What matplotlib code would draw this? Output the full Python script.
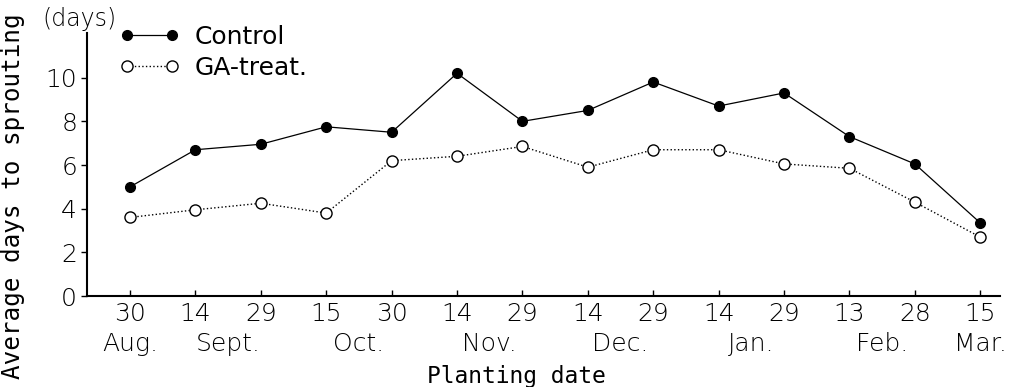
import matplotlib
matplotlib.use("Agg")
import matplotlib.pyplot as plt

# planting dates (day of month) and month labels
day_labels = ["30", "14", "29", "15", "30", "14", "29", "14", "29", "14", "29", "13", "28", "15"]
month_labels = ["Aug.", "Sept.", "Oct.", "Nov.", "Dec.", "Jan.", "Feb.", "Mar."]
month_pos = [0, 1.5, 3.5, 5.5, 7.5, 9.5, 11.5, 13]

control = [5.0, 6.7, 6.95, 7.75, 7.5, 10.2, 8.0, 8.5, 9.8, 8.7, 9.3, 7.3, 6.05, 3.35]
ga_treat = [3.6, 3.95, 4.25, 3.8, 6.2, 6.4, 6.85, 5.9, 6.7, 6.7, 6.05, 5.85, 4.3, 2.7]

x = list(range(len(day_labels)))

fig = plt.figure(figsize=(10.34, 3.87), dpi=100)
ax = fig.add_axes([0.084, 0.235, 0.883, 0.68])

ax.plot(x, control, color="black", linewidth=0.9, marker="o", markersize=7,
        markerfacecolor="black", markeredgecolor="black", label="Control")
ax.plot(x, ga_treat, color="black", linewidth=1.0, linestyle=":", marker="o",
        markersize=8, markerfacecolor="white", markeredgecolor="black",
        markeredgewidth=1.0, label="GA-treat.")

ax.set_xlim(-0.66, 13.3)
ax.set_ylim(0, 12.05)
ax.set_yticks([0, 2, 4, 6, 8, 10])
ax.set_xticks(x)
ax.set_xticklabels(day_labels)

for s in ("top", "right"):
    ax.spines[s].set_visible(False)
for s in ("left", "bottom"):
    ax.spines[s].set_linewidth(1.5)

ax.tick_params(axis="x", direction="in", length=4, width=1, labelsize=18, pad=4)
ax.tick_params(axis="y", direction="out", length=4, width=1, labelsize=18, pad=3)
for lab in ax.get_xticklabels() + ax.get_yticklabels():
    lab.set_fontweight("light")

# month labels on a second row under the day numbers
for pos, name in zip(month_pos, month_labels):
    ax.text(pos, -0.183, name, transform=ax.get_xaxis_transform(),
            ha="center", va="center", fontsize=18, fontweight="light")

ax.set_xlabel("Planting date", family="DejaVu Sans Mono", fontsize=16.5)
ax.xaxis.set_label_coords(0.47, -0.262)
ax.set_ylabel("Average days to sprouting", family="DejaVu Sans Mono", fontsize=17.5)
ax.yaxis.set_label_coords(-0.068, 0.38)

fig.text(0.077, 0.95, "(days)", ha="center", va="center", fontsize=17, fontweight="light")

ax.legend(loc="upper left", bbox_to_anchor=(0.025, 1.068), frameon=False, numpoints=2,
          handlelength=2.4, handletextpad=0.6, labelspacing=0.28, fontsize=18,
          borderaxespad=0)

fig.savefig("out.png", dpi=100)
